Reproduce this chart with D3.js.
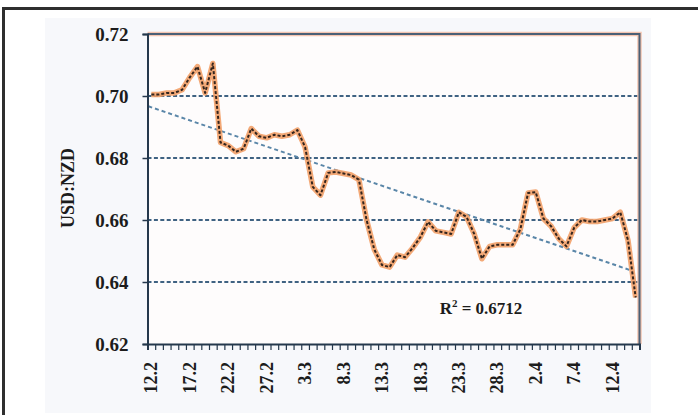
<!DOCTYPE html>
<html>
<head>
<meta charset="utf-8">
<script src="https://cdn.jsdelivr.net/npm/d3@7"></script>
<style>
  html, body { margin: 0; padding: 0; background: #ffffff; }
  svg { display: block; }
  .lbl { font-family: "Liberation Serif", "Times New Roman", serif; font-weight: bold; fill: #1c1c1c; }
</style>
</head>
<body>
<svg id="chart" width="698" height="415"></svg>
<script>
// Daily categories, 12 Feb – 15 Apr
const categories = [
  "12.2","13.2","14.2","15.2","16.2","17.2","18.2","19.2","20.2","21.2",
  "22.2","23.2","24.2","25.2","26.2","27.2","28.2","29.2","1.3","2.3",
  "3.3","4.3","5.3","6.3","7.3","8.3","9.3","10.3","11.3","12.3",
  "13.3","14.3","15.3","16.3","17.3","18.3","19.3","20.3","21.3","22.3",
  "23.3","24.3","25.3","26.3","27.3","28.3","29.3","30.3","31.3","1.4",
  "2.4","3.4","4.4","5.4","6.4","7.4","8.4","9.4","10.4","11.4",
  "12.4","13.4","14.4","15.4"
];

// USD:NZD rate per day
const rates = [
  0.7005, 0.7005, 0.7010, 0.7010, 0.7020, 0.7060, 0.7095, 0.7010, 0.7105, 0.6850,
  0.6840, 0.6820, 0.6830, 0.6895, 0.6870, 0.6865, 0.6875, 0.6870, 0.6875, 0.6890,
  0.6835, 0.6707, 0.6680, 0.6752, 0.6755, 0.6750, 0.6745, 0.6730, 0.6600, 0.6505,
  0.6455, 0.6448, 0.6487, 0.6480, 0.6510, 0.6545, 0.6594, 0.6565, 0.6560, 0.6555,
  0.6625, 0.6610, 0.6555, 0.6475, 0.6515, 0.6520, 0.6520, 0.6520, 0.6570, 0.6687,
  0.6690, 0.6605, 0.6580, 0.6540, 0.6515, 0.6575, 0.6600, 0.6595, 0.6595, 0.6600,
  0.6605, 0.6625, 0.6535, 0.6350
];

// Axis labels
const xTickLabels = ["12.2","17.2","22.2","27.2","3.3","8.3","13.3","18.3","23.3","28.3","2.4","7.4","12.4"];
const yTicks = [0.62, 0.64, 0.66, 0.68, 0.70, 0.72];
const gridValues = [0.64, 0.66, 0.68, 0.70];
const yTitle = "USD:NZD";
const r2Text = "0.6712";

const svg = d3.select("#chart");
const plotL = 147.5, plotR = 639.5, plotT = 34, plotB = 344;

// frame and backdrop
svg.append("rect").attr("x", 45).attr("y", 18).attr("width", 606).attr("height", 395)
  .attr("fill", "#f7f8fb");
svg.append("rect").attr("x", 3.5).attr("y", 8.5).attr("width", 720).attr("height", 430)
  .attr("fill", "none").attr("stroke", "#2e2e2e").attr("stroke-width", 3);

const x = d3.scaleBand().domain(categories).range([plotL, plotR]).padding(0);
const xIdx = d3.scaleLinear().domain([0, categories.length]).range([plotL, plotR]);
const y = d3.scaleLinear().domain([0.62, 0.72]).range([plotB, plotT]);
const cx = c => x(c) + x.bandwidth() / 2;

// plot area
svg.append("rect").attr("x", plotL).attr("y", plotT).attr("width", plotR - plotL).attr("height", plotB - plotT)
  .attr("fill", "#fefcfc");

// horizontal gridlines
svg.append("g").selectAll("line").data(gridValues).join("line")
  .attr("x1", plotL).attr("x2", plotR)
  .attr("y1", d => y(d)).attr("y2", d => y(d))
  .attr("stroke", "#3f6282").attr("stroke-width", 1.8)
  .attr("stroke-dasharray", "4 2.4");

// linear trend fitted to the rates
const n = rates.length;
const xs = d3.range(n);
const mx = d3.mean(xs), my = d3.mean(rates);
const slope = d3.sum(xs, i => (i - mx) * (rates[i] - my)) / d3.sum(xs, i => (i - mx) * (i - mx));
const icpt = my - slope * mx;
svg.append("line")
  .attr("x1", cx(categories[0]) - 3).attr("y1", y(icpt + slope * (-3 / x.bandwidth())))
  .attr("x2", cx(categories[n - 1]) - 3).attr("y2", y(icpt + slope * (n - 1 - 3 / x.bandwidth())))
  .attr("stroke", "#5a86a8").attr("stroke-width", 2).attr("stroke-dasharray", "4 3");

// rate line: orange body with dark dashes on top
const line = d3.line().x((d, i) => cx(categories[i])).y(d => y(d)).curve(d3.curveLinear);
svg.append("path").datum(rates).attr("d", line)
  .attr("fill", "none").attr("stroke", "#f2a068").attr("stroke-width", 5.5)
  .attr("stroke-linejoin", "round").attr("opacity", 0.9);
svg.append("path").datum(rates).attr("d", line)
  .attr("fill", "none").attr("stroke", "#33241d").attr("stroke-width", 2)
  .attr("stroke-dasharray", "3 2").attr("stroke-linejoin", "round");

// plot border (top/right)
svg.append("path")
  .attr("d", `M${plotL},${plotT}H${plotR}V${plotB}`)
  .attr("fill", "none").attr("stroke", "#f4c4b0").attr("stroke-width", 4.5);
svg.append("path")
  .attr("d", `M${plotL},${plotT}H${plotR}V${plotB}`)
  .attr("fill", "none").attr("stroke", "#4b6076").attr("stroke-width", 2);

// y axis
const yAxis = svg.append("g").attr("transform", `translate(${plotL},0)`)
  .call(d3.axisLeft(y).tickValues(yTicks).tickFormat(d3.format(".2f")).tickSize(5).tickPadding(14));
yAxis.select(".domain").attr("stroke", "#25384c").attr("stroke-width", 2);
yAxis.selectAll(".tick line").attr("stroke", "#25384c").attr("stroke-width", 1.5);
yAxis.selectAll(".tick text").attr("class", "lbl").style("font-size", "19px")
  .attr("dy", "0.34em");

// x axis: tick marks at day boundaries
const xTicks = svg.append("g").attr("transform", `translate(0,${plotB})`)
  .call(d3.axisBottom(xIdx).tickValues(d3.range(categories.length + 1)).tickFormat("").tickSize(6));
xTicks.select(".domain").attr("stroke", "#25384c").attr("stroke-width", 2);
xTicks.selectAll(".tick line").attr("stroke", "#25384c").attr("stroke-width", 1.2);

// x axis: rotated date labels every fifth day
const xLab = svg.append("g").attr("transform", `translate(0,${plotB})`)
  .call(d3.axisBottom(x).tickValues(xTickLabels).tickSize(0).tickPadding(0));
xLab.select(".domain").remove();
xLab.selectAll(".tick text").attr("class", "lbl").style("font-size", "18px")
  .attr("text-anchor", "end")
  .attr("transform", "rotate(-90)")
  .attr("x", -18).attr("y", 0).attr("dy", "0.34em");

// y title
svg.append("text").attr("class", "lbl").style("font-size", "18px")
  .attr("text-anchor", "middle")
  .attr("transform", "translate(68,188) rotate(-90)")
  .attr("dy", "0.34em")
  .text(yTitle);

// R² annotation
const r2 = svg.append("text").attr("class", "lbl").style("font-size", "17px")
  .attr("x", 481).attr("y", 314).attr("text-anchor", "middle");
r2.append("tspan").text("R");
r2.append("tspan").attr("dy", -7).style("font-size", "11px").text("2");
r2.append("tspan").attr("dy", 7).text(" = " + r2Text);
</script>
</body>
</html>
